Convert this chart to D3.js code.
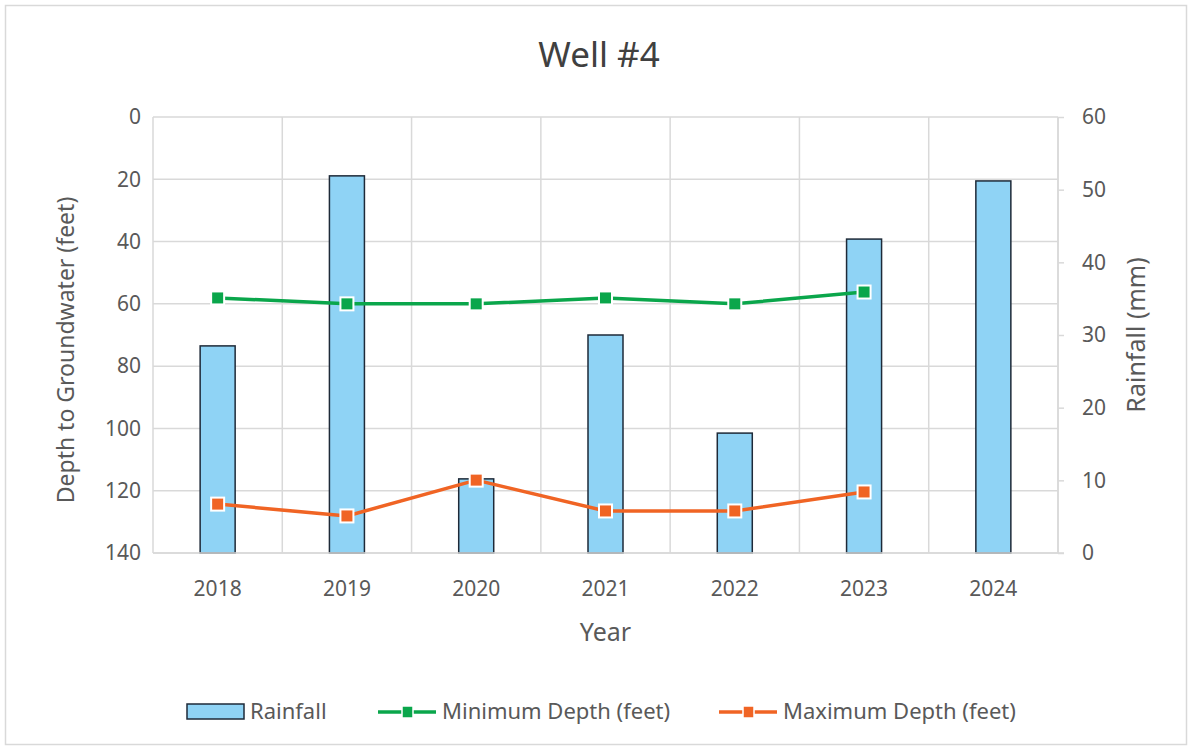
<!DOCTYPE html>
<html><head><meta charset="utf-8">
<script src="https://cdn.jsdelivr.net/npm/d3@7"></script>
<style>body{margin:0;background:#fff;}svg{display:block;font-family:"Noto Sans",Lato,sans-serif;}</style>
</head><body>
<svg id="c" width="1192" height="751"></svg>
<script>
const years = ["2018","2019","2020","2021","2022","2023","2024"];
const rainfall = [28.5, 51.9, 10.2, 30.0, 16.5, 43.2, 51.2];
const minDepth = [58.1, 60.0, 60.0, 58.1, 60.0, 56.2, null];
const maxDepth = [124.3, 128.1, 116.6, 126.5, 126.5, 120.4, null];
const leftTicks = [0,20,40,60,80,100,120,140];
const rightTicks = [0,10,20,30,40,50,60];

const svg = d3.select("#c");
const L=153, R=1058, T=117, B=553;
svg.append("rect").attr("x",5.5).attr("y",5.5).attr("width",1181).attr("height",739)
  .attr("fill","#fff").attr("stroke","#d9d9d9").attr("stroke-width",1.5);

const x = d3.scaleBand().domain(years).range([L,R]).paddingInner(0).paddingOuter(0);
const yL = d3.scaleLinear().domain([0,140]).range([T,B]);
const yR = d3.scaleLinear().domain([0,60]).range([B,T]);

// gridlines
const g = svg.append("g");
g.selectAll(".hg").data(leftTicks).join("line")
  .attr("x1",L).attr("x2",R).attr("y1",d=>yL(d)).attr("y2",d=>yL(d))
  .attr("stroke","#d9d9d9").attr("stroke-width",1.5);
const bounds = years.map(y=>x(y)).concat([R]);
g.selectAll(".vg").data(bounds).join("line")
  .attr("x1",d=>d).attr("x2",d=>d).attr("y1",T).attr("y2",B)
  .attr("stroke","#d9d9d9").attr("stroke-width",1.5);

// bars
const bw = 35;
svg.append("g").selectAll("rect").data(years).join("rect")
  .attr("x",(d)=>x(d)+x.bandwidth()/2-bw/2)
  .attr("width",bw)
  .attr("y",(d,i)=>yR(rainfall[i]))
  .attr("height",(d,i)=>B-yR(rainfall[i]))
  .attr("fill","#8fd3f5").attr("stroke","#1e2a38").attr("stroke-width",1.5);

// axes
const axL = d3.axisLeft(yL).tickValues(leftTicks).tickSize(0).tickPadding(12);
const gl = svg.append("g").attr("transform",`translate(${L},0)`).call(axL);
const axR = d3.axisRight(yR).tickValues(rightTicks).tickSize(6).tickPadding(18);
const gr = svg.append("g").attr("transform",`translate(${R},0)`).call(axR);
const axB = d3.axisBottom(x).tickSize(0).tickPadding(28);
const gb = svg.append("g").attr("transform",`translate(0,${B})`).call(axB);
[gl,gr,gb].forEach(a=>{
  a.select(".domain").remove();
  a.selectAll("text").attr("font-size",21).attr("fill","#595959").attr("font-family","'Noto Sans',sans-serif");
  a.selectAll("line").attr("stroke","#d9d9d9").attr("stroke-width",1.5);
});
svg.append("line").attr("x1",R).attr("x2",R).attr("y1",T).attr("y2",B).attr("stroke","#d9d9d9").attr("stroke-width",1.5);
svg.append("line").attr("x1",L).attr("x2",R+6).attr("y1",B).attr("y2",B).attr("stroke","#d9d9d9").attr("stroke-width",1.5);

// lines
function series(vals,color){
  const pts = years.map((d,i)=>({x:x(d)+x.bandwidth()/2, v:vals[i]})).filter(p=>p.v!=null);
  const line = d3.line().x(p=>p.x).y(p=>yL(p.v));
  svg.append("path").datum(pts).attr("d",line).attr("fill","none")
    .attr("stroke",color).attr("stroke-width",3.5).attr("stroke-linejoin","round");
  svg.append("g").selectAll("rect").data(pts).join("rect")
    .attr("x",p=>p.x-6.5).attr("y",p=>yL(p.v)-6.5).attr("width",13).attr("height",13)
    .attr("fill",color).attr("stroke","#fff").attr("stroke-width",2);
}
const green = "#0aa64b", orange = "#f06424";
series(minDepth, green);
series(maxDepth, orange);

// titles
svg.append("text").attr("x",599).attr("y",67).attr("text-anchor","middle")
  .attr("font-size",35).attr("fill","#404040").text("Well #4");
svg.append("text").attr("x",(L+R)/2).attr("y",641).attr("text-anchor","middle")
  .attr("font-size",25).attr("fill","#595959").text("Year");
svg.append("text").attr("transform",`translate(74,350) rotate(-90)`).attr("text-anchor","middle")
  .attr("font-size",23).attr("fill","#595959").text("Depth to Groundwater (feet)");
svg.append("text").attr("transform",`translate(1145,335) rotate(-90)`).attr("text-anchor","middle")
  .attr("font-size",25).attr("fill","#595959").text("Rainfall (mm)");

// legend
const lg = svg.append("g").attr("font-size",22).attr("fill","#595959");
lg.append("rect").attr("x",187).attr("y",704).attr("width",57).attr("height",15)
  .attr("fill","#8fd3f5").attr("stroke","#1e2a38").attr("stroke-width",1.5);
lg.append("text").attr("x",250).attr("y",719).text("Rainfall");
function legLine(x0,color,label){
  lg.append("line").attr("x1",x0).attr("x2",x0+58).attr("y1",712).attr("y2",712).attr("stroke",color).attr("stroke-width",3.5);
  lg.append("rect").attr("x",x0+24).attr("y",706).attr("width",11).attr("height",12).attr("fill",color).attr("stroke","#fff").attr("stroke-width",1.5);
  lg.append("text").attr("x",x0+64).attr("y",719).text(label);
}
legLine(378,green,"Minimum Depth (feet)");
legLine(719,orange,"Maximum Depth (feet)");
</script>
</body></html>
